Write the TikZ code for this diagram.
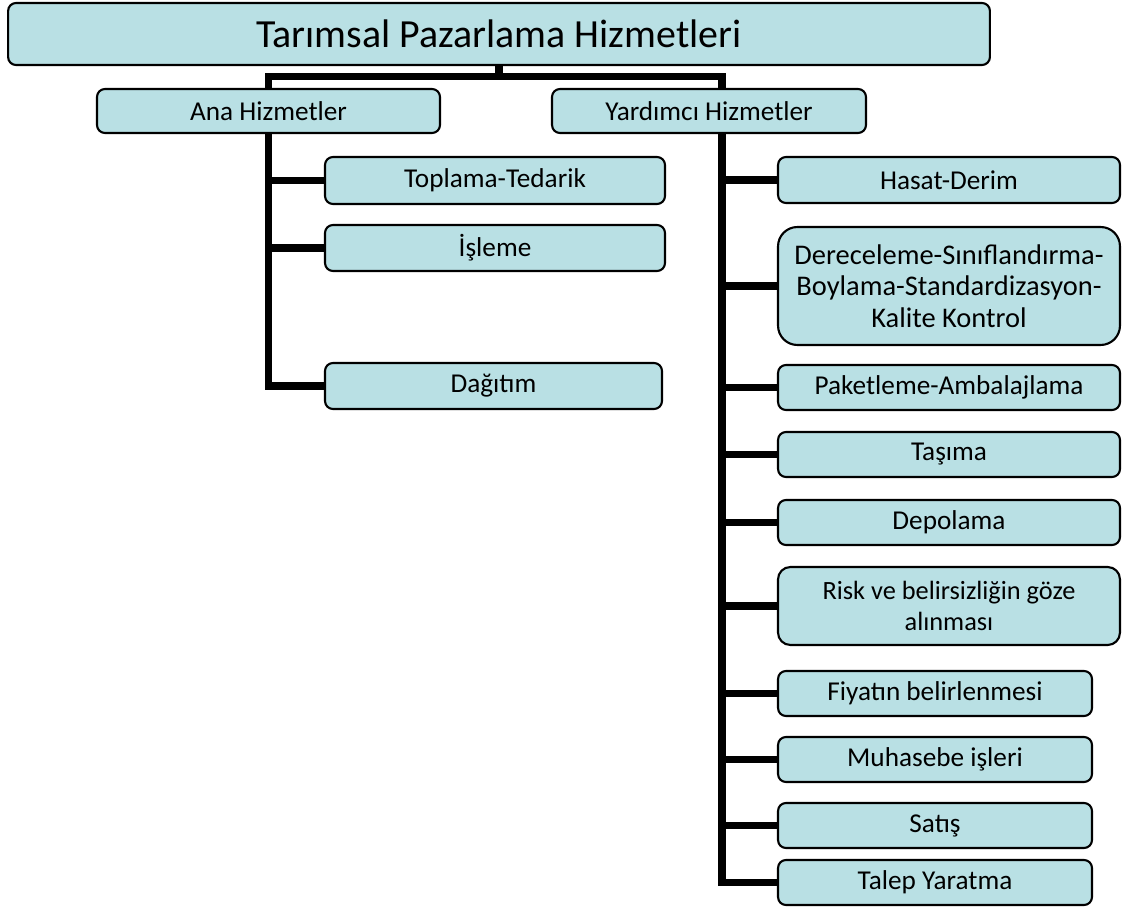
\documentclass[tikz,border=0pt]{standalone}
\usepackage{fontspec}
\setmainfont{Carlito}
\usepackage{tikz}
\definecolor{boxfill}{RGB}{185,224,228}

\begin{document}
\begin{tikzpicture}[x=0.02cm, y=-0.02cm,
    hbox/.style={rectangle, rounded corners=4.5pt, draw, line width=1.2pt, fill=boxfill,
                 inner sep=0pt, align=center, font=\fontsize{15.5}{18}\selectfont},
    link/.style={line width=4pt}]
\useasboundingbox (0,0) rectangle (1125,911);

  % top of the tree
  \node[hbox, minimum width=19.64cm, minimum height=1.24cm, font=\fontsize{22.7}{26}\selectfont]
       (title) at (499,34) {Tarımsal Pazarlama Hizmetleri};

  \node[hbox, minimum width=6.86cm, minimum height=0.88cm] (ana) at (268.5,111) {Ana Hizmetler};
  \node[hbox, minimum width=6.28cm, minimum height=0.88cm] (yard) at (709,111) {Yardımcı Hizmetler};

  \coordinate (bar) at (0,76.5);
  \coordinate (rtrunk) at (722,0);

  \draw[link] (title.south) -- (title.south |- bar);
  \draw[link] (ana.north) -- (ana.north |- bar) -- (rtrunk |- bar) -- (rtrunk |- yard.north);

  % main services
  \node[hbox, minimum width=6.8cm, minimum height=0.94cm] (toplama) at (495,180.5) {Toplama-Tedarik};
  \node[hbox, minimum width=6.8cm, minimum height=0.92cm] (isleme) at (495,248) {İşleme};
  \node[hbox, minimum width=6.74cm, minimum height=0.92cm] (dagitim) at (493.5,386) {Dağıtım};

  \draw[link] (ana.south) -- (ana.south |- dagitim.west) -- (dagitim.west);
  \draw[link] (ana.south |- toplama.west) -- (toplama.west);
  \draw[link] (ana.south |- isleme.west) -- (isleme.west);

  % auxiliary services
  \node[hbox, minimum width=6.84cm, minimum height=0.92cm] (hasat) at (949,180) {Hasat-Derim};
  \node[hbox, minimum width=6.84cm, minimum height=2.36cm, rounded corners=11pt,
        font=\fontsize{16.2}{18}\selectfont]
       (derece) at (949,286) {Dereceleme-Sınıflandırma-\\Boylama-Standardizasyon-\\Kalite Kontrol};
  \node[hbox, minimum width=6.84cm, minimum height=0.9cm] (paket) at (949,387.5) {Paketleme-Ambalajlama};
  \node[hbox, minimum width=6.84cm, minimum height=0.9cm] (tasima) at (949,454.5) {Taşıma};
  \node[hbox, minimum width=6.84cm, minimum height=0.9cm] (depo) at (949,522.5) {Depolama};
  \node[hbox, minimum width=6.84cm, minimum height=1.56cm, rounded corners=7pt,
        font=\fontsize{15}{18}\selectfont]
       (risk) at (949,606) {Risk ve belirsizliğin göze\\alınması};
  \node[hbox, minimum width=6.28cm, minimum height=0.9cm] (fiyat) at (935,693.5) {Fiyatın belirlenmesi};
  \node[hbox, minimum width=6.28cm, minimum height=0.9cm] (muhasebe) at (935,759.5) {Muhasebe işleri};
  \node[hbox, minimum width=6.28cm, minimum height=0.9cm] (satis) at (935,825.5) {Satış};
  \node[hbox, minimum width=6.28cm, minimum height=0.9cm] (talep) at (935,882.5) {Talep Yaratma};

  \draw[link] (rtrunk |- yard.south) -- (rtrunk |- talep.west) -- (talep.west);
  \draw[link] (rtrunk |- hasat.west) -- (hasat.west);
  \draw[link] (rtrunk |- derece.west) -- (derece.west);
  \draw[link] (rtrunk |- paket.west) -- (paket.west);
  \draw[link] (rtrunk |- tasima.west) -- (tasima.west);
  \draw[link] (rtrunk |- depo.west) -- (depo.west);
  \draw[link] (rtrunk |- risk.west) -- (risk.west);
  \draw[link] (rtrunk |- fiyat.west) -- (fiyat.west);
  \draw[link] (rtrunk |- muhasebe.west) -- (muhasebe.west);
  \draw[link] (rtrunk |- satis.west) -- (satis.west);

\end{tikzpicture}
\end{document}
